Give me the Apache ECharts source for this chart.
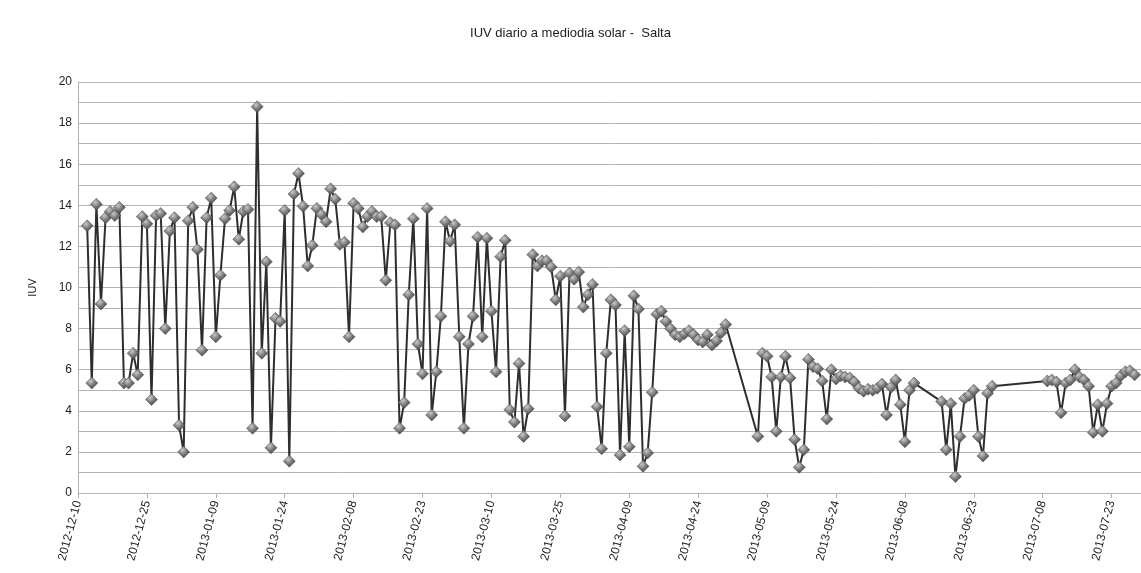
<!DOCTYPE html>
<html>
<head>
<meta charset="utf-8">
<script src="https://cdn.jsdelivr.net/npm/echarts@6/dist/echarts.min.js"></script>
<style>html,body{margin:0;padding:0;background:#fff}#c{width:1141px;height:573px}</style>
</head>
<body>
<div id="c"></div>
<script>
const titleText = 'IUV diario a mediodia solar -  Salta';
const yName = 'IUV';
const startDate = '2012-12-10';
const visibleDays = 231.4;
const tickStepDays = 15;

const dates = [
'2012-12-12','2012-12-13','2012-12-14','2012-12-15','2012-12-16','2012-12-17','2012-12-18','2012-12-19','2012-12-20','2012-12-21',
'2012-12-22','2012-12-23','2012-12-24','2012-12-25','2012-12-26','2012-12-27','2012-12-28','2012-12-29','2012-12-30','2012-12-31',
'2013-01-01','2013-01-02','2013-01-03','2013-01-04','2013-01-05','2013-01-06','2013-01-07','2013-01-08','2013-01-09','2013-01-10',
'2013-01-11','2013-01-12','2013-01-13','2013-01-14','2013-01-15','2013-01-16','2013-01-17','2013-01-18','2013-01-19','2013-01-20',
'2013-01-21','2013-01-22','2013-01-23','2013-01-24','2013-01-25','2013-01-26','2013-01-27','2013-01-28','2013-01-29','2013-01-30',
'2013-01-31','2013-02-01','2013-02-02','2013-02-03','2013-02-04','2013-02-05','2013-02-06','2013-02-07','2013-02-08','2013-02-09',
'2013-02-10','2013-02-11','2013-02-12','2013-02-13','2013-02-14','2013-02-15','2013-02-16','2013-02-17','2013-02-18','2013-02-19',
'2013-02-20','2013-02-21','2013-02-22','2013-02-23','2013-02-24','2013-02-25','2013-02-26','2013-02-27','2013-02-28','2013-03-01',
'2013-03-02','2013-03-03','2013-03-04','2013-03-05','2013-03-06','2013-03-07','2013-03-08','2013-03-09','2013-03-10','2013-03-11',
'2013-03-12','2013-03-13','2013-03-14','2013-03-15','2013-03-16','2013-03-17','2013-03-18','2013-03-19','2013-03-20','2013-03-21',
'2013-03-22','2013-03-23','2013-03-24','2013-03-25','2013-03-26','2013-03-27','2013-03-28','2013-03-29','2013-03-30','2013-03-31',
'2013-04-01','2013-04-02','2013-04-03','2013-04-04','2013-04-05','2013-04-06','2013-04-07','2013-04-08','2013-04-09','2013-04-10',
'2013-04-11','2013-04-12','2013-04-13','2013-04-14','2013-04-15','2013-04-16','2013-04-17','2013-04-18','2013-04-19','2013-04-20',
'2013-04-21','2013-04-22','2013-04-23','2013-04-24','2013-04-25','2013-04-26','2013-04-27','2013-04-28','2013-04-29','2013-04-30',
'2013-05-07','2013-05-08','2013-05-09','2013-05-10','2013-05-11','2013-05-12','2013-05-13','2013-05-14','2013-05-15','2013-05-16',
'2013-05-17','2013-05-18','2013-05-19','2013-05-20','2013-05-21','2013-05-22','2013-05-23','2013-05-24','2013-05-25','2013-05-26',
'2013-05-27','2013-05-28','2013-05-29','2013-05-30','2013-05-31','2013-06-01','2013-06-02','2013-06-03','2013-06-04','2013-06-05',
'2013-06-06','2013-06-07','2013-06-08','2013-06-09','2013-06-10',
'2013-06-16','2013-06-17','2013-06-18','2013-06-19','2013-06-20','2013-06-21','2013-06-22','2013-06-23','2013-06-24','2013-06-25',
'2013-06-26','2013-06-27',
'2013-07-09','2013-07-10','2013-07-11','2013-07-12','2013-07-13','2013-07-14','2013-07-15','2013-07-16','2013-07-17','2013-07-18',
'2013-07-19','2013-07-20','2013-07-21','2013-07-22','2013-07-23','2013-07-24','2013-07-25','2013-07-26','2013-07-27','2013-07-28'
];

const iuv = [
13.0,5.35,14.05,9.2,13.4,13.7,13.5,13.9,5.35,5.35,
6.8,5.75,13.45,13.1,4.55,13.5,13.6,8.0,12.75,13.4,
3.3,2.0,13.25,13.9,11.85,6.95,13.4,14.35,7.6,10.6,
13.35,13.75,14.9,12.35,13.7,13.8,3.15,18.8,6.8,11.25,
2.2,8.5,8.35,13.75,1.55,14.55,15.55,13.95,11.05,12.05,
13.85,13.55,13.2,14.8,14.3,12.1,12.2,7.6,14.1,13.85,
12.95,13.45,13.7,13.45,13.45,10.35,13.15,13.05,3.15,4.4,
9.65,13.35,7.25,5.8,13.85,3.8,5.9,8.6,13.2,12.25,
13.05,7.6,3.15,7.25,8.6,12.45,7.6,12.4,8.85,5.9,
11.5,12.3,4.05,3.45,6.3,2.75,4.1,11.6,11.05,11.3,
11.3,11.0,9.4,10.55,3.75,10.7,10.4,10.75,9.05,9.65,
10.15,4.2,2.15,6.8,9.4,9.15,1.85,7.9,2.25,9.6,
8.95,1.3,1.95,4.9,8.7,8.85,8.35,8.0,7.7,7.6,
7.75,7.9,7.7,7.45,7.35,7.7,7.2,7.4,7.8,8.2,
2.75,6.8,6.65,5.65,3.0,5.65,6.65,5.6,2.6,1.25,
2.1,6.5,6.15,6.05,5.45,3.6,6.0,5.55,5.7,5.65,
5.6,5.4,5.1,4.95,5.05,5.0,5.1,5.3,3.8,5.15,
5.5,4.3,2.5,5.0,5.35,
4.45,2.1,4.35,0.8,2.75,4.6,4.75,5.0,2.75,1.8,
4.85,5.2,
5.45,5.5,5.4,3.9,5.35,5.5,6.0,5.65,5.5,5.2,
2.95,4.3,3.0,4.35,5.2,5.35,5.7,5.9,5.95,5.75
];

const DAY = 86400000;
const t0 = Date.parse(startDate + 'T00:00:00Z');
const dayOf = s => Math.round((Date.parse(s + 'T00:00:00Z') - t0) / DAY);
const fmtDay = v => new Date(t0 + v * DAY).toISOString().slice(0, 10);
const seriesData = dates.map((d, i) => [dayOf(d), iuv[i]]);

const chart = echarts.init(document.getElementById('c'), null, {renderer: 'canvas'});
chart.setOption({
  animation: false,
  backgroundColor: '#ffffff',
  title: {
    text: titleText,
    left: 'center',
    top: 22,
    textStyle: {fontFamily: 'Liberation Sans', fontSize: 13, fontWeight: 'normal', color: '#222'}
  },
  grid: {left: 78, right: 0, top: 82, bottom: 80, containLabel: false},
  xAxis: {
    type: 'value',
    min: 0,
    max: visibleDays,
    interval: tickStepDays,
    axisLine: {show: true, lineStyle: {color: '#b3b3b3', width: 1}},
    axisTick: {show: true, length: 5, lineStyle: {color: '#b3b3b3'}},
    splitLine: {show: false},
    axisLabel: {
      rotate: 75,
      margin: 8,
      showMaxLabel: false,
      fontFamily: 'Liberation Sans',
      fontSize: 12,
      color: '#222',
      formatter: v => fmtDay(v)
    }
  },
  yAxis: {
    type: 'value',
    min: 0,
    max: 20,
    interval: 2,
    name: yName,
    nameLocation: 'middle',
    nameGap: 40,
    nameRotate: 90,
    nameTextStyle: {fontFamily: 'Liberation Sans', fontSize: 11, color: '#222'},
    axisLine: {show: true, lineStyle: {color: '#b3b3b3'}},
    axisTick: {show: false},
    minorTick: {show: false, splitNumber: 2},
    axisLabel: {fontFamily: 'Liberation Sans', fontSize: 12, color: '#222', margin: 6},
    splitLine: {show: true, lineStyle: {color: '#b3b3b3', width: 1}},
    minorSplitLine: {show: true, lineStyle: {color: '#b3b3b3', width: 1}}
  },
  series: [{
    type: 'line',
    data: seriesData,
    symbol: 'diamond',
    symbolSize: 12,
    showAllSymbol: true,
    clip: false,
    lineStyle: {color: '#2e2e2e', width: 2},
    itemStyle: {
      color: new echarts.graphic.RadialGradient(0.4, 0.35, 0.7, [
        {offset: 0, color: '#c8c8c8'},
        {offset: 0.5, color: '#7a7a7a'},
        {offset: 1, color: '#3c3c3c'}
      ]),
      borderColor: '#4a4a4a',
      borderWidth: 0.5
    },
    z: 3
  }]
});
</script>
</body>
</html>
